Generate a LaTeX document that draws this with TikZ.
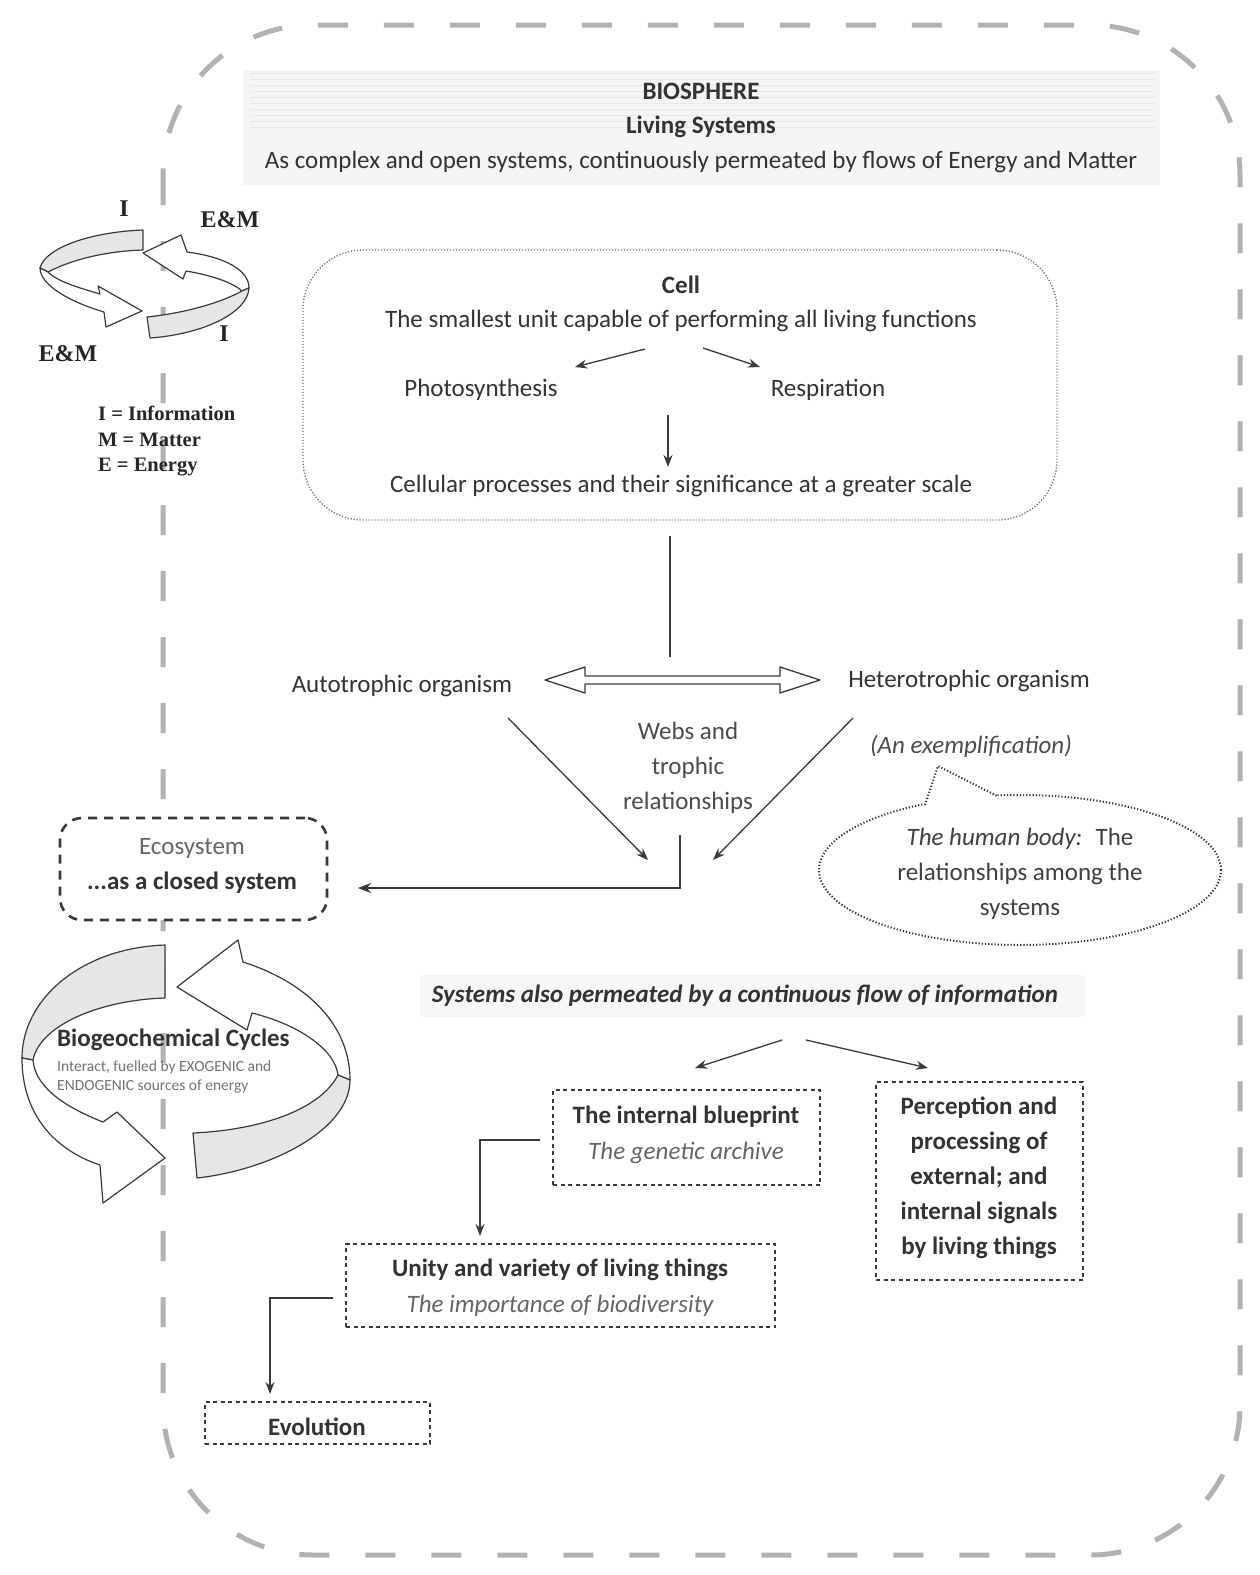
\documentclass[tikz,border=0pt]{standalone}
\usepackage{fontspec}
\setmainfont{Carlito}
\newfontfamily\serifb{Liberation Serif}
\usetikzlibrary{arrows.meta,shapes.geometric}
\definecolor{txtc}{HTML}{333333}
\definecolor{lnc}{HTML}{3A3A3A}
\definecolor{ribc}{HTML}{E6E6E6}
\begin{document}
\begin{tikzpicture}[x=1pt,y=1pt,
  base/.style={inner sep=0pt, text=txtc, align=center, font=\fontsize{25}{35}\selectfont},
  bf/.style={base, font=\fontsize{25}{35}\selectfont\bfseries},
  itx/.style={base, font=\fontsize{25}{35}\selectfont\itshape},
  small/.style={inner sep=0pt, anchor=west, text=black!55, font=\fontsize{15.5}{18}\selectfont},
  arr/.style={draw=lnc, line width=1.3pt, -{Stealth[length=12pt,width=9pt]}},
  thickarr/.style={draw=lnc, line width=2.4pt, -{Stealth[length=13pt,width=10pt]}},
  dbox/.style={draw=lnc, line width=1.5pt, dash pattern=on 4pt off 3.5pt, fill=white, inner sep=0pt},
  rib/.style={draw=lnc, line width=1.2pt, line join=round},
  lab/.style={inner sep=0pt, text=black!85, font=\fontsize{24}{28}\selectfont\serifb\bfseries},
  leg/.style={inner sep=0pt, anchor=west, text=black!85, font=\fontsize{20.5}{24}\selectfont\serifb\bfseries},
]
\useasboundingbox (0,0) rectangle (1259,-1575);
\fill[white] (0,0) rectangle (1259,-1575);

% outer biosphere border
\draw[black!30, line width=5pt, dash pattern=on 30pt off 36pt, rounded corners=150pt] (163,-25) rectangle (1240,-1555);

% header band
\fill[black!4] (243,-70) rectangle (1160,-185);
\foreach \yy in {73,79,85,91,97,103,109,115,121,127}
  \draw[black!9, line width=0.6pt] (250,-\yy) -- (1155,-\yy);
\node[bf] (bio) at (701,-91) {BIOSPHERE};
\node[bf] (liv) at (701,-127) {Living Systems};
\node[base] (open) at (701,-162) {As complex and open systems, continuously permeated by flows of Energy and Matter};

% small I / E&M cycle icon
\filldraw[rib, fill=ribc] (143,-230) .. controls (90,-232) and (45,-248) .. (40,-268) -- (48,-272) .. controls (75,-258) and (110,-251) .. (143,-250) -- cycle;
\filldraw[rib, fill=white] (249,-288) .. controls (249,-270) and (225,-257) .. (187,-252) -- (181,-235) -- (143,-253) -- (183,-279) -- (186,-271) .. controls (210,-275) and (232,-282) .. (242,-291) -- cycle;
\filldraw[rib, fill=white] (40,-268) .. controls (40,-285) and (70,-302) .. (104,-312) -- (106,-327) -- (142,-311) -- (98,-286) -- (100,-294) .. controls (80,-288) and (58,-282) .. (48,-272) -- cycle;
\filldraw[rib, fill=ribc] (150,-338) .. controls (205,-334) and (248,-312) .. (249,-288) -- (242,-291) .. controls (220,-303) and (185,-313) .. (147,-317) -- cycle;
\node[lab] (i1) at (124,-209) {I};
\node[lab] (em1) at (230,-220) {E\&M};
\node[lab] (em2) at (68,-354) {E\&M};
\node[lab] (i2) at (224,-334) {I};
\node[leg] (lg1) at (98,-413) {I = Information};
\node[leg] (lg2) at (98,-440) {M = Matter};
\node[leg] (lg3) at (98,-467) {E = Energy};

% cell box
\node[draw=black!55, line width=1.4pt, dash pattern=on 1.2pt off 1.8pt, rounded corners=60pt, minimum width=754pt, minimum height=270pt, inner sep=0pt] (cell) at (680,-385) {};
\node[bf] (cellT) at (681,-285) {Cell};
\node[base] (cellD) at (681,-321) {The smallest unit capable of performing all living functions};
\node[base] (photo) at (481,-390) {Photosynthesis};
\node[base] (resp) at (828,-390) {Respiration};
\node[base] (cproc) at (681,-486) {Cellular processes and their significance at a greater scale};
\coordinate (ca) at (645,-349);
\coordinate (cb) at (703,-348);
\coordinate (cc) at (668,-415);
\draw[arr] (ca) -- (575,-367);
\draw[arr] (cb) -- (760,-367);
\draw[draw=lnc, line width=2pt, -{Stealth[length=12pt,width=9pt]}] (cc) -- (668,-467);

% link from cell to organisms
\coordinate (v1) at (670,-536);
\coordinate (v2) at (670,-657);
\draw[lnc, line width=2.2pt] (v1) -- (v2);

% hollow double arrow
\filldraw[draw=lnc, fill=white, line width=1.3pt, line join=round] (545,-680) -- (585,-667) -- (585,-676) -- (780,-676) -- (780,-667) -- (820,-680) -- (780,-693) -- (780,-684) -- (585,-684) -- (585,-693) -- cycle;
\node[base] (auto) at (402,-686) {Autotrophic organism};
\node[base] (hetero) at (969,-681) {Heterotrophic organism};
\node[base, text=black!70] (webs) at (688,-768) {Webs and\\trophic\\relationships};

\coordinate (a1) at (508,-718);
\coordinate (a2) at (648,-860);
\coordinate (h1) at (853,-718);
\coordinate (h2) at (713,-860);
\draw[arr] (a1) -- (a2);
\draw[arr] (h1) -- (h2);

% ecosystem box
\node[draw=lnc, line width=2.6pt, dash pattern=on 9pt off 7pt, rounded corners=22pt, fill=white, minimum width=267pt, minimum height=102pt, inner sep=0pt] (eco) at (193.5,-869) {};
\node[base, text=black!60] (ecoT) at (192,-848) {Ecosystem};
\node[bf] (ecoD) at (192,-883) {...as a closed system};
\coordinate (w1) at (680,-835);
\coordinate (w2) at (358,-888);
\draw[thickarr] (w1) |- (w2);

% exemplification bubble
\node[itx, text=black!70] (exem) at (971,-746) {(An exemplification)};
\draw[black!80, line width=2pt, dash pattern=on 1.2pt off 2pt] (1020,-870) ellipse[x radius=201, y radius=75];
\fill[white] (922,-806) -- (938,-766) -- (999,-797) -- cycle;
\draw[black!80, line width=2pt, dash pattern=on 1.2pt off 2pt, line join=round] (925,-805) -- (938,-766) -- (997,-796);
\node[base, text=black!75] (hb) at (1020,-874) {\textit{The human body:}~ The\\relationships among the\\systems};

% information flow
\fill[black!3] (420,-975) rectangle (1085,-1017);
\node[base, font=\fontsize{25}{35}\selectfont\bfseries\itshape] (sys) at (745,-996) {Systems also permeated by a continuous flow of information};
\coordinate (s1) at (782,-1040);
\coordinate (s2) at (806,-1040);
\draw[arr] (s1) -- (695,-1068);
\draw[arr] (s2) -- (928,-1068);

% boxes
\node[dbox, minimum width=267pt, minimum height=95pt] (blue) at (686.5,-1137.5) {};
\node[bf] (blueT) at (686,-1117) {The internal blueprint};
\node[itx, text=black!60] (blueD) at (686,-1153) {The genetic archive};

\node[dbox, minimum width=207pt, minimum height=198pt] (perc) at (979.5,-1181) {};
\node[bf] (percT) at (979,-1178) {Perception and\\processing of\\external; and\\internal signals\\by living things};

\node[dbox, minimum width=429pt, minimum height=83pt] (unity) at (560.5,-1285.5) {};
\node[bf] (unityT) at (560,-1270) {Unity and variety of living things};
\node[itx, text=black!60] (unityD) at (560,-1306) {The importance of biodiversity};

\node[dbox, minimum width=225pt, minimum height=42pt] (evo) at (317.5,-1423) {};
\node[bf] (evoT) at (317,-1427) {Evolution};

\coordinate (b1) at (540,-1140);
\coordinate (u1) at (333,-1298);
\draw[arr] (b1) -| (480,-1236);
\draw[arr] (u1) -| (270,-1394);

% large biogeochemical cycle
\filldraw[rib, fill=ribc] (165,-945) .. controls (80,-948) and (22,-1000) .. (22,-1058) -- (33,-1060) .. controls (40,-1025) and (100,-1000) .. (165,-998) -- cycle;
\filldraw[rib, fill=white] (350,-1080) .. controls (350,-1020) and (300,-980) .. (243,-962) -- (238,-940) -- (177,-987) -- (247,-1030) -- (252,-1013) .. controls (300,-1025) and (335,-1050) .. (338,-1075) -- cycle;
\filldraw[rib, fill=white] (22,-1058) .. controls (22,-1115) and (55,-1150) .. (100,-1165) -- (103,-1203) -- (165,-1158) -- (117,-1112) -- (103,-1122) .. controls (60,-1105) and (35,-1085) .. (33,-1060) -- cycle;
\filldraw[rib, fill=ribc] (197,-1178) .. controls (270,-1170) and (350,-1130) .. (350,-1080) -- (338,-1075) .. controls (320,-1110) and (260,-1130) .. (193,-1133) -- cycle;
\node[bf, anchor=west] (bgc) at (57,-1040) {Biogeochemical Cycles};
\node[small] (bgc2) at (57,-1067) {Interact, fuelled by EXOGENIC and};
\node[small] (bgc3) at (57,-1087) {ENDOGENIC sources of energy};
\end{tikzpicture}
\end{document}
